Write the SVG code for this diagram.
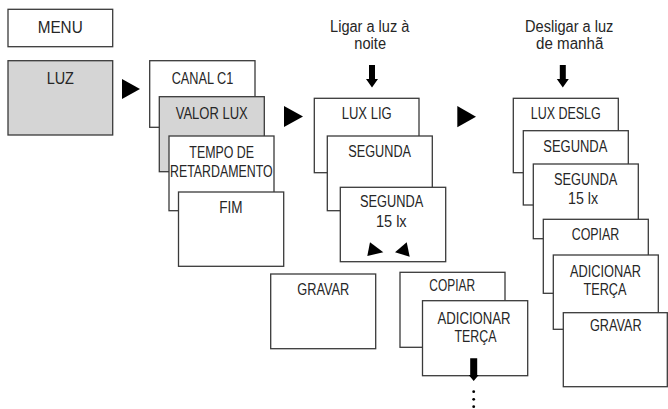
<svg xmlns="http://www.w3.org/2000/svg" width="668" height="409" viewBox="0 0 668 409">
<style>
.box{fill:#ffffff;stroke:#3a3a3a;stroke-width:1.3}
.gray{fill:#d5d5d5}
.t{font-family:"Liberation Sans",Arial,sans-serif;font-size:16px;fill:#262626;text-anchor:middle}
.ar{fill:#000000}
</style>
<rect width="668" height="409" fill="#ffffff"/>
<g id="menu"><rect class="box" x="8" y="9.3" width="104.7" height="37.4"/><text class="t" x="60.2" y="33.3" textLength="45" lengthAdjust="spacingAndGlyphs">MENU</text></g>
<g id="luz"><rect class="box gray" x="8" y="60.7" width="104.7" height="74.3"/><text class="t" x="60.3" y="84" textLength="27.3" lengthAdjust="spacingAndGlyphs">LUZ</text></g>
<g id="canal"><rect class="box" x="149.7" y="60.7" width="105.3" height="66.6"/><text class="t" x="202.5" y="84" textLength="61.7" lengthAdjust="spacingAndGlyphs">CANAL C1</text></g>
<g id="valor"><rect class="box gray" x="159.3" y="96.7" width="105" height="75"/><text class="t" x="211.7" y="119" textLength="72" lengthAdjust="spacingAndGlyphs">VALOR LUX</text></g>
<g id="tempo"><rect class="box" x="169" y="136" width="105" height="74.7"/><text class="t" x="221.7" y="158.3" textLength="64.7" lengthAdjust="spacingAndGlyphs">TEMPO DE</text><text class="t" x="221.3" y="176.7" textLength="102.7" lengthAdjust="spacingAndGlyphs">RETARDAMENTO</text></g>
<g id="fim"><rect class="box" x="178.5" y="192" width="105.2" height="74.3"/><text class="t" x="231" y="213.3" textLength="23.3" lengthAdjust="spacingAndGlyphs">FIM</text></g>
<g id="label-ligar"><text class="t" x="369.7" y="31.7" textLength="79.3" lengthAdjust="spacingAndGlyphs">Ligar a luz à</text><text class="t" x="370.2" y="49.3" textLength="31.7" lengthAdjust="spacingAndGlyphs">noite</text></g>
<g id="luxlig"><rect class="box" x="314.3" y="98.3" width="104.7" height="74.4"/><text class="t" x="366.7" y="119" textLength="50" lengthAdjust="spacingAndGlyphs">LUX LIG</text></g>
<g id="segunda1"><rect class="box" x="327.3" y="136" width="105" height="74.7"/><text class="t" x="379.7" y="157.3" textLength="62.7" lengthAdjust="spacingAndGlyphs">SEGUNDA</text></g>
<g id="segunda2"><rect class="box" x="340.3" y="187.3" width="105.4" height="74.4"/><text class="t" x="391.7" y="207.3" textLength="63.3" lengthAdjust="spacingAndGlyphs">SEGUNDA</text><text class="t" x="391.3" y="226.7" textLength="30.7" lengthAdjust="spacingAndGlyphs">15 lx</text><polygon class="ar" points="370,242.3 367.3,256 383.3,252.3"/><polygon class="ar" points="406.7,242.3 395,252.3 409.7,256.7"/></g>
<g id="gravar1"><rect class="box" x="270.7" y="274" width="105" height="74.7"/><text class="t" x="323.3" y="295" textLength="52" lengthAdjust="spacingAndGlyphs">GRAVAR</text></g>
<g id="copiar1"><rect class="box" x="400" y="272.3" width="105" height="75"/><text class="t" x="452.2" y="291" textLength="45.7" lengthAdjust="spacingAndGlyphs">COPIAR</text></g>
<g id="adicionar1"><rect class="box" x="422.5" y="300.7" width="105.2" height="75"/><text class="t" x="474" y="324" textLength="73" lengthAdjust="spacingAndGlyphs">ADICIONAR</text><text class="t" x="475.5" y="341.7" textLength="42" lengthAdjust="spacingAndGlyphs">TERÇA</text></g>
<g id="label-desligar"><text class="t" x="569.2" y="31.7" textLength="88.3" lengthAdjust="spacingAndGlyphs">Desligar a luz</text><text class="t" x="569.7" y="49.3" textLength="67.3" lengthAdjust="spacingAndGlyphs">de manhã</text></g>
<g id="luxdeslg"><rect class="box" x="513.3" y="98.3" width="105" height="74.4"/><text class="t" x="565.7" y="119" textLength="70" lengthAdjust="spacingAndGlyphs">LUX DESLG</text></g>
<g id="segunda3"><rect class="box" x="523.3" y="130.7" width="105" height="74.3"/><text class="t" x="575.3" y="151.7" textLength="64" lengthAdjust="spacingAndGlyphs">SEGUNDA</text></g>
<g id="segunda4"><rect class="box" x="533.3" y="164" width="105" height="74.7"/><text class="t" x="585.7" y="185" textLength="63.3" lengthAdjust="spacingAndGlyphs">SEGUNDA</text><text class="t" x="583" y="204" textLength="30" lengthAdjust="spacingAndGlyphs">15 lx</text></g>
<g id="copiar2"><rect class="box" x="543.3" y="219.3" width="105" height="74"/><text class="t" x="595.5" y="240" textLength="47.7" lengthAdjust="spacingAndGlyphs">COPIAR</text></g>
<g id="adicionar2"><rect class="box" x="553.3" y="255" width="105" height="74.3"/><text class="t" x="605.5" y="276.7" textLength="71" lengthAdjust="spacingAndGlyphs">ADICIONAR</text><text class="t" x="605" y="295" textLength="43" lengthAdjust="spacingAndGlyphs">TERÇA</text></g>
<g id="gravar2"><rect class="box" x="563.3" y="312.7" width="104" height="74"/><text class="t" x="615.8" y="330.7" textLength="51.7" lengthAdjust="spacingAndGlyphs">GRAVAR</text></g>
<g id="connectors">
<polygon class="ar" points="122,79 122,99 140,89"/>
<polygon class="ar" points="284,106 284,127 303,116.5"/>
<polygon class="ar" points="457.3,106 457.3,127.3 476,116.7"/>
<polygon class="ar" points="369,65 375,65 375,79 378,79 372,87.5 366,79 369,79"/>
<polygon class="ar" points="559.8,65 565.8,65 565.8,79 568.8,79 562.8,87.5 556.8,79 559.8,79"/>
<polygon class="ar" points="470.2,358.3 477.2,358.3 477.2,375 478.7,375 473.7,381 468.7,375 470.2,375"/>
<circle class="ar" cx="473.7" cy="391.7" r="1.4"/>
<circle class="ar" cx="473.7" cy="399.3" r="1.4"/>
<circle class="ar" cx="473.7" cy="406.7" r="1.4"/>
</g>
</svg>
